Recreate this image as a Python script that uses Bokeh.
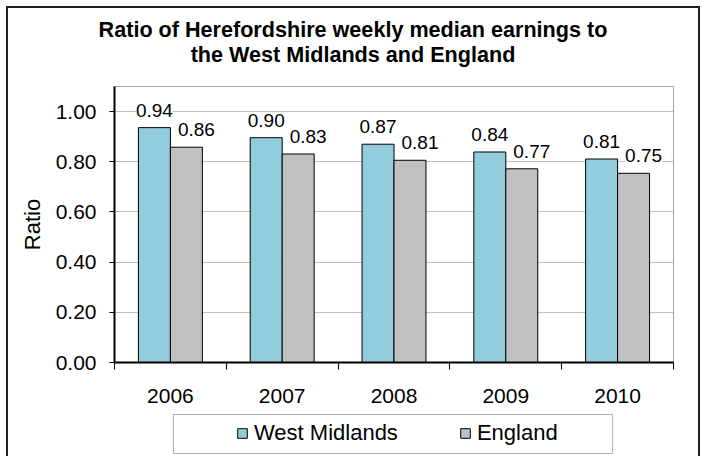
from bokeh.plotting import figure
from bokeh.layouts import column
from bokeh.models import (ColumnDataSource, FixedTicker, NumeralTickFormatter, Range1d,
                          Legend, LegendItem, BoxAnnotation, Div)
from bokeh.core.properties import value
from bokeh.embed import file_html
from bokeh.resources import INLINE

# ---- data ----
years = ["2006", "2007", "2008", "2009", "2010"]
west_midlands = [0.936, 0.896, 0.870, 0.839, 0.811]
england = [0.858, 0.831, 0.806, 0.772, 0.754]
series_names = ["West Midlands", "England"]
y_ticks = [0.0, 0.2, 0.4, 0.6, 0.8, 1.0]
title_lines = ["Ratio of Herefordshire weekly median earnings to", "the West Midlands and England"]
y_label = "Ratio"

FONT = "Liberation Sans"
BLUE = "#93CDDD"
GREY = "#C0C0C0"

n = len(years)
centers = [i + 1 for i in range(n)]
off = 0.143
bw = 0.286

src = ColumnDataSource(dict(
    x_wm=[c - off for c in centers],
    x_en=[c + off for c in centers],
    wm=west_midlands,
    en=england,
    lab_wm=[f"{v:.2f}" for v in west_midlands],
    lab_en=[f"{v:.2f}" for v in england],
))

# ---------- title (centred on the whole chart) ----------
title_div = Div(
    text=('<div style="width:690px;text-align:center;'
          'font-family:\'Liberation Sans\',Arial,sans-serif;'
          'font-weight:bold;font-size:21.6px;line-height:1.15;color:black;padding-top:10px;">'
          + "<br>".join(title_lines) + "</div>"),
    width=690, height=76, margin=0)

# ---------- main chart ----------
p = figure(width=690, height=329, x_range=Range1d(0.5, n + 0.5), y_range=Range1d(0, 1.1),
           output_backend="svg", toolbar_location=None,
           min_border_left=106, min_border_right=25, min_border_top=2, min_border_bottom=51,
           background_fill_color="white", border_fill_color="white", margin=0)
p.outline_line_color = "#a6a6a6"
p.outline_line_width = 1

p.xgrid.visible = False
p.ygrid.ticker = FixedTicker(ticks=y_ticks)
p.ygrid.grid_line_color = "#c0c0c0"
p.ygrid.grid_line_width = 1

xa = p.xaxis[0]
xa.ticker = FixedTicker(ticks=centers, minor_ticks=[c - 0.5 for c in centers] + [centers[-1] + 0.5])
xa.major_label_overrides = {c: y for c, y in zip(centers, years)}
xa.major_tick_line_color = None
xa.major_tick_out = 0
xa.major_tick_in = 0
xa.minor_tick_line_color = "black"
xa.minor_tick_out = 7
xa.minor_tick_in = 0
xa.axis_line_color = "black"
xa.axis_line_width = 2
xa.major_label_standoff = 19
xa.major_label_text_font = FONT
xa.major_label_text_font_size = "21px"
xa.major_label_text_color = "black"

ya = p.yaxis[0]
ya.ticker = FixedTicker(ticks=y_ticks)
ya.formatter = NumeralTickFormatter(format="0.00")
ya.major_tick_out = 5
ya.major_tick_in = 0
ya.minor_tick_line_color = None
ya.major_tick_line_color = "black"
ya.axis_line_color = "black"
ya.axis_line_width = 2
ya.major_label_standoff = 13
ya.major_label_text_font = FONT
ya.major_label_text_font_size = "21px"
ya.major_label_text_color = "black"
ya.axis_label = y_label
ya.axis_label_text_font = FONT
ya.axis_label_text_font_size = "22px"
ya.axis_label_text_font_style = "normal"
ya.axis_label_text_color = "black"
ya.axis_label_standoff = 8

r_wm = p.vbar(x="x_wm", top="wm", width=bw, bottom=0, source=src,
              fill_color=BLUE, line_color="black", line_width=1)
r_en = p.vbar(x="x_en", top="en", width=bw, bottom=0, source=src,
              fill_color=GREY, line_color="black", line_width=1)

p.text(x="x_wm", y="wm", text="lab_wm", source=src, text_align="center",
       text_baseline="bottom", y_offset=-11, x_offset=0,
       text_font=value(FONT), text_font_size="19px", text_color="black",
       background_fill_color="white")
p.text(x="x_en", y="en", text="lab_en", source=src, text_align="center",
       text_baseline="bottom", y_offset=-11, x_offset=10,
       text_font=value(FONT), text_font_size="19px", text_color="black",
       background_fill_color="white")

# ---------- legend strip (frame aligned with the chart's plot area) ----------
lf = figure(width=690, height=43, x_range=Range1d(0, 1), y_range=Range1d(0, 43),
            x_axis_type=None, y_axis_type=None, output_backend="svg", toolbar_location=None,
            min_border_left=106, min_border_right=25, min_border_top=0, min_border_bottom=0,
            background_fill_color="white", border_fill_color="white", margin=0)
lf.grid.visible = False
lf.outline_line_color = None
lf.add_layout(BoxAnnotation(left=0.1055, right=0.891, top=42, bottom=3,
                            fill_color="white", fill_alpha=1.0,
                            line_color="black", line_width=1))
k_wm = lf.vbar(x="x_wm", top="wm", width=bw, source=src, fill_color=BLUE,
               line_color="black", line_width=1, visible=False)
k_en = lf.vbar(x="x_en", top="en", width=bw, source=src, fill_color=GREY,
               line_color="black", line_width=1, visible=False)
legend = Legend(items=[LegendItem(label=series_names[0], renderers=[k_wm]),
                       LegendItem(label=series_names[1], renderers=[k_en])],
                orientation="horizontal", location=(122, 10),
                glyph_width=12, glyph_height=12, label_standoff=6, spacing=61,
                padding=0, margin=0, border_line_alpha=0, background_fill_alpha=0,
                inactive_fill_alpha=0,
                label_text_font=FONT, label_text_font_size="22px", label_text_color="black")
lf.add_layout(legend, "center")

layout = column(title_div, p, lf, spacing=0,
                styles={"margin": "6px 0 0 6px", "box-sizing": "content-box",
                        "border-top": "2px solid #1e1e1e", "border-left": "2px solid #1e1e1e",
                        "border-right": "2px solid #1e1e1e", "background-color": "white"})

open("out.html", "w").write(file_html(layout, INLINE))
